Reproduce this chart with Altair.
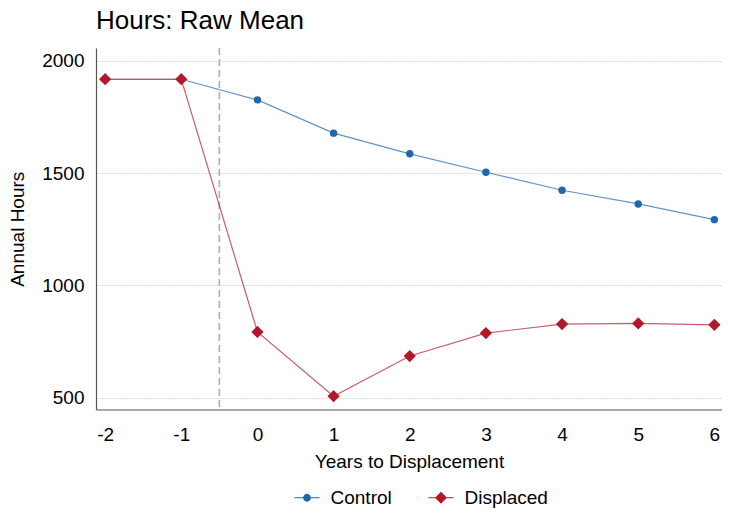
import altair as alt
import pandas as pd

years = [-2, -1, 0, 1, 2, 3, 4, 5, 6]
control = [1918, 1918, 1826, 1678, 1586, 1504, 1424, 1363, 1293]
displaced = [1918, 1918, 793, 507, 686, 788, 828, 831, 825]
series_names = ["Control", "Displaced"]
colors = ["#2166ac", "#b2182b"]
event_line = [-0.5]
y_ticks = [500, 1000, 1500, 2000]

rows = []
for name, vals in zip(series_names, [control, displaced]):
    for yr, v in zip(years, vals):
        rows.append({"year": yr, "hours": v, "group": name})
df = pd.DataFrame(rows)
vline = pd.DataFrame({"x": event_line})

FONT = "Liberation Sans"

xscale = alt.Scale(domain=[-2.12, 6.1], nice=False, zero=False)
yscale = alt.Scale(domain=[448, 2057], nice=False, zero=False)
cscale = alt.Scale(domain=series_names, range=colors)

# legend glyphs: thin filled bar (the line) plus the marker
circle_path = "M-2.1,-0.09H2.1V0.09H-2.1ZM0.65,0A0.65,0.65,0,1,1,-0.65,0A0.65,0.65,0,1,1,0.65,0Z"
diamond_path = "M-2.1,-0.09H2.1V0.09H-2.1ZM0,-1L1,0L0,1L-1,0Z"

legend = alt.Legend(
    title=None,
    orient="none",
    direction="horizontal",
    legendX=201.5,
    legendY=440,
    labelFont=FONT,
    labelFontSize=19,
    labelColor="#000000",
    labelOffset=14,
    columnPadding=35,
    symbolSize=144,
    symbolStrokeWidth=0,
    symbolOpacity=1,
    padding=0,
)

base = alt.Chart(df)
X = alt.X("year:Q", scale=xscale)
Y = alt.Y("hours:Q", scale=yscale)

lines = base.mark_line(strokeWidth=1.2, opacity=0.7).encode(
    x=alt.X("year:Q", scale=xscale,
            axis=alt.Axis(title="Years to Displacement", values=years,
                          labelExpr="'' + datum.value", grid=False)),
    y=alt.Y("hours:Q", scale=yscale,
            axis=alt.Axis(title="Annual Hours", values=y_ticks, format="d", grid=True)),
    color=alt.Color("group:N", scale=cscale, legend=None),
    order=alt.Order("year:Q"),
)

pts_control = base.transform_filter(alt.datum.group == "Control").mark_point(
    shape="circle", filled=True, opacity=1, size=55
).encode(x=X, y=Y, color=alt.Color("group:N", scale=cscale, legend=None))

pts_displaced = base.transform_filter(alt.datum.group == "Displaced").mark_point(
    shape="diamond", filled=True, opacity=1, size=150
).encode(x=X, y=Y, color=alt.Color("group:N", scale=cscale, legend=None))

legend_layer = base.transform_filter("false").mark_point(opacity=1, filled=True).encode(
    x=X,
    y=Y,
    color=alt.Color("group:N", scale=cscale, legend=legend),
    shape=alt.Shape("group:N", scale=alt.Scale(domain=series_names, range=[circle_path, diamond_path]), legend=legend),
)

rule = alt.Chart(vline).mark_rule(color="#b0b0b0", strokeDash=[7, 4], strokeWidth=1.6).encode(
    x=alt.X("x:Q", scale=xscale)
)

chart = alt.layer(rule, lines, pts_control, pts_displaced, legend_layer).resolve_legend(
    color="independent", shape="independent"
).properties(
    width=626,
    height=361.5,
    padding=0,
    title=alt.TitleParams("Hours: Raw Mean", anchor="start", frame="group", font=FONT,
                          fontSize=26, fontWeight="normal", color="#000000", offset=13),
).configure_view(
    stroke=None
).configure_axis(
    labelFont=FONT,
    titleFont=FONT,
    labelFontSize=19,
    titleFontSize=19,
    titleFontWeight="normal",
    labelColor="#000000",
    titleColor="#000000",
    ticks=False,
    domainColor="#555555",
    domainWidth=1.2,
    gridColor="#bdbdbd",
    gridDash=[1, 2],
    gridWidth=1,
).configure_axisX(
    labelPadding=16,
    titlePadding=7.5,
).configure_axisY(
    labelPadding=12,
    titlePadding=14.5,
)

chart.save("out.html", embed_options={"renderer": "svg", "actions": False})
